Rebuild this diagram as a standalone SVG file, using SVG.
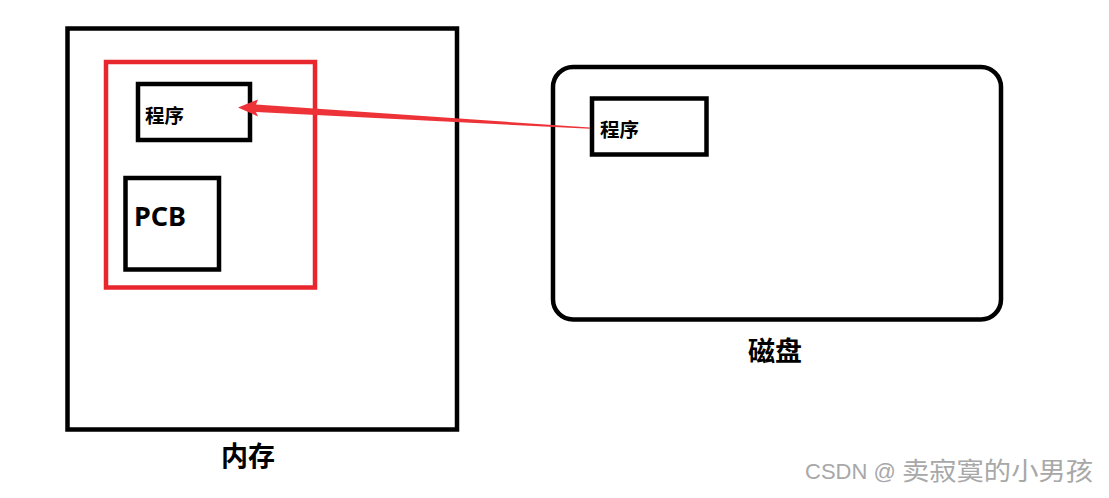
<svg xmlns="http://www.w3.org/2000/svg" width="1109" height="498" viewBox="0 0 1109 498">
<style>
.box{fill:none;stroke:#000;stroke-width:4.5}
.red{fill:none;stroke:#e8262e;stroke-width:4.5}
.t{font-family:"Noto Sans","Noto Sans CJK SC",sans-serif;font-weight:bold;fill:#000}
.wm{font-family:"Liberation Sans","Noto Sans CJK SC",sans-serif;fill:#a8a8a8}
</style>
<rect width="1109" height="498" fill="#fff"/>
<g id="memory">
<rect class="box" x="67.5" y="28.5" width="389.5" height="401"/>
<text class="t" x="221" y="466" font-size="27">内存</text>
</g>
<g id="process">
<rect class="red" x="106" y="62" width="209" height="225.5"/>
</g>
<g id="mem-program">
<rect class="box" x="138" y="84" width="112" height="56"/>
<text class="t" x="145" y="122.5" font-size="19.5">程序</text>
</g>
<g id="pcb">
<rect class="box" x="125.5" y="178" width="93.5" height="91.5"/>
<text class="t" x="134" y="226" font-size="27">PCB</text>
</g>
<g id="disk">
<rect class="box" x="553" y="67" width="448" height="252.5" rx="20" ry="20"/>
<text class="t" x="748" y="361" font-size="27">磁盘</text>
</g>
<g id="disk-program">
<rect class="box" x="592" y="98.5" width="114.5" height="56"/>
<text class="t" x="600" y="136.5" font-size="19.5">程序</text>
</g>
<g id="connectors">
<polygon fill="#ee3338" points="238,107.5 258,99.5 256,104.5 590,127.6 590,128.8 256,112 258,116.5"/>
</g>
<g id="watermark">
<text class="wm" x="805" y="479" font-size="22">CSDN @</text>
<text class="wm" x="902" y="480" font-size="25" textLength="191" lengthAdjust="spacingAndGlyphs">卖寂寞的小男孩</text>
</g>
</svg>
